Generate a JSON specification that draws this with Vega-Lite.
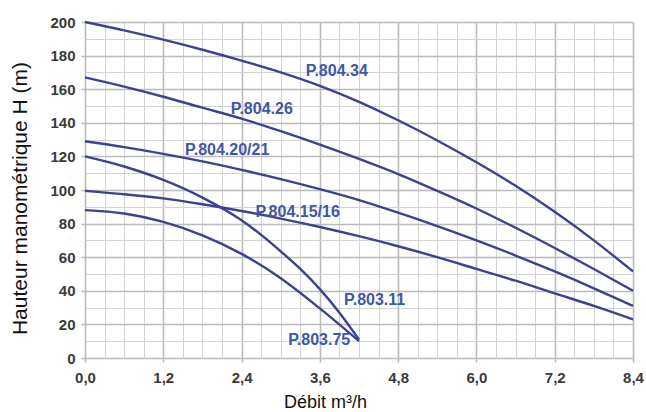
{
  "$schema": "https://vega.github.io/schema/vega-lite/v6.json",
  "width": 548,
  "height": 336,
  "autosize": "none",
  "padding": {"left": 85, "top": 22, "right": 13, "bottom": 54},
  "background": "white",
  "config": {"view": {"stroke": null}},
  "datasets": {
    "curves": [
      {"model": "P.804.34", "q": 0, "h": 200}, {"model": "P.804.34", "q": 0.6, "h": 195}, {"model": "P.804.34", "q": 1.2, "h": 189.5}, {"model": "P.804.34", "q": 1.8, "h": 183.5}, {"model": "P.804.34", "q": 2.4, "h": 177}, {"model": "P.804.34", "q": 3.0, "h": 170}, {"model": "P.804.34", "q": 3.6, "h": 162}, {"model": "P.804.34", "q": 4.2, "h": 152.5}, {"model": "P.804.34", "q": 4.8, "h": 141.5}, {"model": "P.804.34", "q": 5.4, "h": 129.5}, {"model": "P.804.34", "q": 6.0, "h": 116.5}, {"model": "P.804.34", "q": 6.6, "h": 102.5}, {"model": "P.804.34", "q": 7.2, "h": 87}, {"model": "P.804.34", "q": 7.8, "h": 70}, {"model": "P.804.34", "q": 8.4, "h": 51.5},
      {"model": "P.804.26", "q": 0, "h": 167}, {"model": "P.804.26", "q": 0.6, "h": 161.5}, {"model": "P.804.26", "q": 1.2, "h": 155.5}, {"model": "P.804.26", "q": 1.8, "h": 149}, {"model": "P.804.26", "q": 2.4, "h": 142.5}, {"model": "P.804.26", "q": 3.0, "h": 135}, {"model": "P.804.26", "q": 3.6, "h": 127}, {"model": "P.804.26", "q": 4.2, "h": 118.5}, {"model": "P.804.26", "q": 4.8, "h": 109.5}, {"model": "P.804.26", "q": 5.4, "h": 99.5}, {"model": "P.804.26", "q": 6.0, "h": 89}, {"model": "P.804.26", "q": 6.6, "h": 77.5}, {"model": "P.804.26", "q": 7.2, "h": 65.5}, {"model": "P.804.26", "q": 7.8, "h": 53}, {"model": "P.804.26", "q": 8.4, "h": 40},
      {"model": "P.804.20/21", "q": 0, "h": 129}, {"model": "P.804.20/21", "q": 0.6, "h": 125.5}, {"model": "P.804.20/21", "q": 1.2, "h": 121.5}, {"model": "P.804.20/21", "q": 1.8, "h": 117}, {"model": "P.804.20/21", "q": 2.4, "h": 112}, {"model": "P.804.20/21", "q": 3.0, "h": 106.5}, {"model": "P.804.20/21", "q": 3.6, "h": 100.5}, {"model": "P.804.20/21", "q": 4.2, "h": 94}, {"model": "P.804.20/21", "q": 4.8, "h": 86.5}, {"model": "P.804.20/21", "q": 5.4, "h": 78.5}, {"model": "P.804.20/21", "q": 6.0, "h": 70}, {"model": "P.804.20/21", "q": 6.6, "h": 61}, {"model": "P.804.20/21", "q": 7.2, "h": 51.5}, {"model": "P.804.20/21", "q": 7.8, "h": 41.5}, {"model": "P.804.20/21", "q": 8.4, "h": 31},
      {"model": "P.804.15/16", "q": 0, "h": 99.5}, {"model": "P.804.15/16", "q": 0.6, "h": 97.5}, {"model": "P.804.15/16", "q": 1.2, "h": 95}, {"model": "P.804.15/16", "q": 1.8, "h": 91.5}, {"model": "P.804.15/16", "q": 2.4, "h": 87.5}, {"model": "P.804.15/16", "q": 3.0, "h": 83}, {"model": "P.804.15/16", "q": 3.6, "h": 78}, {"model": "P.804.15/16", "q": 4.2, "h": 72.5}, {"model": "P.804.15/16", "q": 4.8, "h": 66.5}, {"model": "P.804.15/16", "q": 5.4, "h": 60}, {"model": "P.804.15/16", "q": 6.0, "h": 53}, {"model": "P.804.15/16", "q": 6.6, "h": 46}, {"model": "P.804.15/16", "q": 7.2, "h": 38.5}, {"model": "P.804.15/16", "q": 7.8, "h": 31}, {"model": "P.804.15/16", "q": 8.4, "h": 23},
      {"model": "P.803.11", "q": 0, "h": 120}, {"model": "P.803.11", "q": 0.6, "h": 114}, {"model": "P.803.11", "q": 1.2, "h": 106}, {"model": "P.803.11", "q": 1.8, "h": 95.5}, {"model": "P.803.11", "q": 2.4, "h": 82}, {"model": "P.803.11", "q": 3.0, "h": 63.5}, {"model": "P.803.11", "q": 3.3, "h": 53}, {"model": "P.803.11", "q": 3.6, "h": 41}, {"model": "P.803.11", "q": 3.9, "h": 27}, {"model": "P.803.11", "q": 4.2, "h": 11},
      {"model": "P.803.75", "q": 0, "h": 88}, {"model": "P.803.75", "q": 0.6, "h": 86}, {"model": "P.803.75", "q": 1.2, "h": 81}, {"model": "P.803.75", "q": 1.8, "h": 73}, {"model": "P.803.75", "q": 2.4, "h": 62}, {"model": "P.803.75", "q": 3.0, "h": 47.5}, {"model": "P.803.75", "q": 3.6, "h": 29.5}, {"model": "P.803.75", "q": 4.2, "h": 10}
    ],
    "labels": [
      {"label": "P.804.34", "q": 3.86, "h": 171},
      {"label": "P.804.26", "q": 2.71, "h": 148},
      {"label": "P.804.20/21", "q": 2.18, "h": 124},
      {"label": "P.804.15/16", "q": 3.26, "h": 87},
      {"label": "P.803.11", "q": 4.44, "h": 34.5},
      {"label": "P.803.75", "q": 3.59, "h": 10.5}
    ]
  },
  "resolve": {"axis": {"x": "independent", "y": "independent"}},
  "layer": [
    {
      "data": {"name": "curves"},
      "mark": {"type": "line", "interpolate": "monotone", "color": "#3b4390", "strokeWidth": 2.4},
      "encoding": {
        "x": {
          "field": "q", "type": "quantitative",
          "scale": {"domain": [0, 8.4], "nice": false, "zero": false},
          "axis": {
            "orient": "bottom",
            "title": null,
            "values": [0.3, 0.6, 0.9, 1.5, 1.8, 2.1, 2.7, 3.0, 3.3, 3.9, 4.2, 4.5, 5.1, 5.4, 5.7, 6.3, 6.6, 6.9, 7.5, 7.8, 8.1],
            "labels": false,
            "domain": false,
            "ticks": false,
            "grid": true,
            "gridColor": "#d3d3d3",
            "gridWidth": 1
          }
        },
        "y": {
          "field": "h", "type": "quantitative",
          "scale": {"domain": [0, 200], "nice": false},
          "axis": {
            "orient": "left",
            "title": null,
            "values": [10, 30, 50, 70, 90, 110, 130, 150, 170, 190],
            "labels": false,
            "domain": false,
            "ticks": false,
            "grid": true,
            "gridColor": "#d3d3d3",
            "gridWidth": 1
          }
        },
        "detail": {"field": "model"}
      }
    },
    {
      "data": {"name": "labels"},
      "mark": {"type": "text", "font": "Liberation Sans", "fontWeight": "bold", "fontSize": 16, "color": "#4256a6", "align": "center", "baseline": "middle"},
      "encoding": {
        "x": {
          "field": "q", "type": "quantitative",
          "scale": {"domain": [0, 8.4], "nice": false, "zero": false},
          "axis": {
            "orient": "bottom",
            "title": "Débit m³/h",
            "values": [0, 1.2, 2.4, 3.6, 4.8, 6.0, 7.2, 8.4],
            "labelExpr": "replace(format(datum.value, '.1f'), '.', ',')",
            "labelOverlap": false,
            "labelFlush": false,
            "labelBound": false,
            "labelFont": "Liberation Sans",
            "labelFontWeight": "bold",
            "labelFontSize": 15,
            "labelColor": "#3a3a3a",
            "labelPadding": 8,
            "domain": false,
            "ticks": true,
            "tickSize": 4,
            "tickColor": "#bbbbbb",
            "tickWidth": 1.6,
            "grid": true,
            "gridColor": "#bbbbbb",
            "gridWidth": 1.6,
            "titleFont": "Liberation Sans",
            "titleFontWeight": "normal",
            "titleFontSize": 18,
            "titleColor": "#111111",
            "titleX": 240,
            "titlePadding": 8
          }
        },
        "y": {
          "field": "h", "type": "quantitative",
          "scale": {"domain": [0, 200], "nice": false},
          "axis": {
            "orient": "left",
            "title": "Hauteur manométrique H (m)",
            "values": [0, 20, 40, 60, 80, 100, 120, 140, 160, 180, 200],
            "labelOverlap": false,
            "labelBound": false,
            "labelFont": "Liberation Sans",
            "labelFontWeight": "bold",
            "labelFontSize": 15,
            "labelColor": "#3a3a3a",
            "labelPadding": 6,
            "domain": false,
            "ticks": true,
            "tickSize": 4,
            "tickColor": "#bbbbbb",
            "tickWidth": 1.6,
            "grid": true,
            "gridColor": "#bbbbbb",
            "gridWidth": 1.6,
            "titleFont": "Liberation Sans",
            "titleFontWeight": "normal",
            "titleFontSize": 21,
            "titleColor": "#111111",
            "titleY": 176,
            "titlePadding": 19
          }
        },
        "text": {"field": "label"}
      }
    }
  ]
}
